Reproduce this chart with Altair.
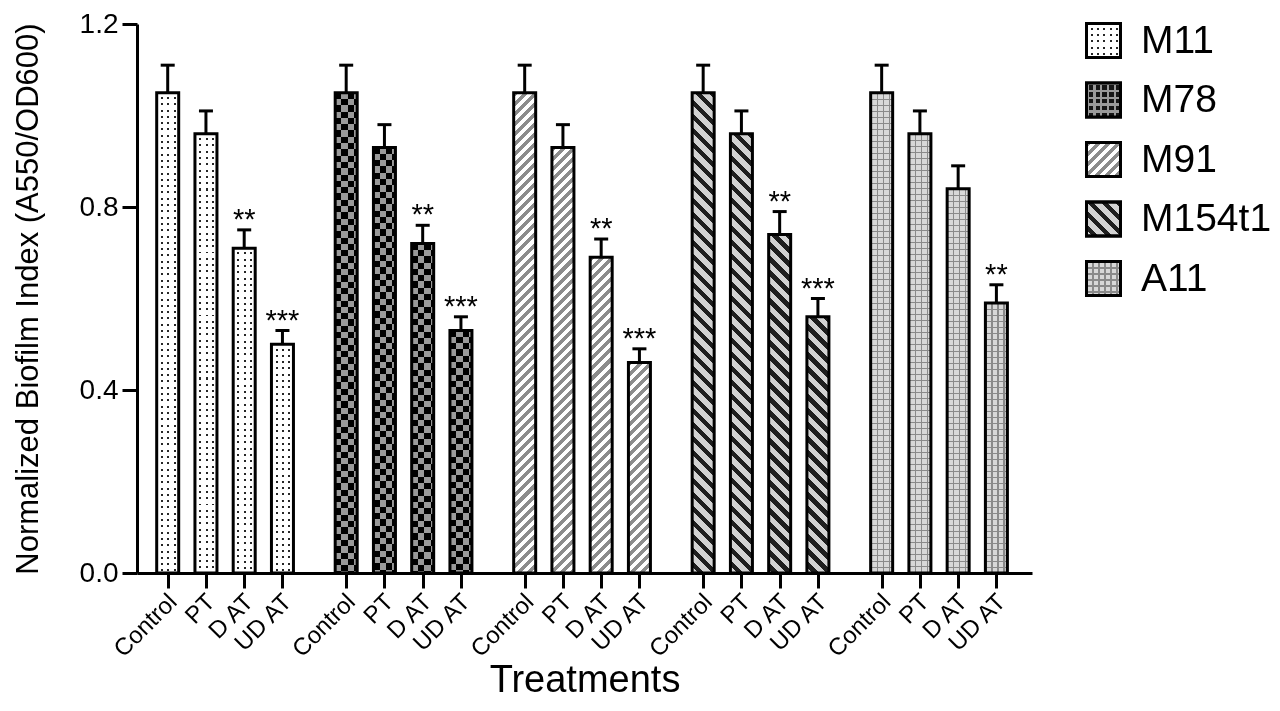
import math
import json
import altair as alt
import pandas as pd

# ---------------- data ----------------
strains = ["M11", "M78", "M91", "M154t1", "A11"]
treatments = ["Control", "PT", "D AT", "UD AT"]

mean_M11 = [1.05, 0.96, 0.71, 0.50]
mean_M78 = [1.05, 0.93, 0.72, 0.53]
mean_M91 = [1.05, 0.93, 0.69, 0.46]
mean_M154t1 = [1.05, 0.96, 0.74, 0.56]
mean_A11 = [1.05, 0.96, 0.84, 0.59]

err_M11 = [0.06, 0.05, 0.04, 0.03]
err_M78 = [0.06, 0.05, 0.04, 0.03]
err_M91 = [0.06, 0.05, 0.04, 0.03]
err_M154t1 = [0.06, 0.05, 0.05, 0.04]
err_A11 = [0.06, 0.05, 0.05, 0.04]

sig_M11 = ["", "", "**", "***"]
sig_M78 = ["", "", "**", "***"]
sig_M91 = ["", "", "**", "***"]
sig_M154t1 = ["", "", "**", "***"]
sig_A11 = ["", "", "", "**"]

means = [mean_M11, mean_M78, mean_M91, mean_M154t1, mean_A11]
errs = [err_M11, err_M78, err_M91, err_M154t1, err_A11]
sigs = [sig_M11, sig_M78, sig_M91, sig_M154t1, sig_A11]

# ---------------- layout ----------------
W, H = 895, 549
YMAX = 1.2
BAR_W = 22
GAP = 2.0 / 3.0                      # extra gap between strain groups (in bar slots)
STEP = len(treatments) + GAP
XMIN, XMAX = -0.672, (len(strains) - 1) * STEP + len(treatments) - 1 + 0.80
FONT = "Liberation Sans"

rows = []
for gi, s in enumerate(strains):
    for ti, t in enumerate(treatments):
        rows.append({
            "strain": s, "treatment": t, "key": s + "|" + t,
            "pos": gi * STEP + ti,
            "mean": means[gi][ti],
            "top": means[gi][ti] + errs[gi][ti],
            "sig": sigs[gi][ti],
        })
df = pd.DataFrame(rows)
positions = list(df["pos"])

# ---------------- pattern helpers (gradients used as hatch fills) ----------------
CLEAR = "rgba(0,0,0,0)"


def stripe_stops(span, period, duty, c1, c2):
    f = period / span
    stops = []
    o = 0.0
    while o < 1 - 1e-9:
        m = min(o + duty * f, 1.0)
        e = min(o + f, 1.0)
        stops.append({"offset": round(o, 5), "color": c1})
        stops.append({"offset": round(m, 5), "color": c1})
        if m < 1:
            stops.append({"offset": round(m, 5), "color": c2})
            stops.append({"offset": round(e, 5), "color": c2})
        o += f
    return stops


def horiz(h, period, duty, c1, c2):
    return {"gradient": "linear", "x1": 0, "y1": 0, "x2": 0, "y2": 1,
            "stops": stripe_stops(h, period, duty, c1, c2)}


def vert(w, period, duty, c1, c2):
    return {"gradient": "linear", "x1": 0, "y1": 0, "x2": 1, "y2": 0,
            "stops": stripe_stops(w, period, duty, c1, c2)}


def diag_up(w, h, period, duty, c1, c2):
    k = (w + h) / (w * w + h * h)
    return {"gradient": "linear", "x1": 0, "y1": 0, "x2": round(k * w, 5), "y2": round(k * h, 5),
            "stops": stripe_stops((w + h) / math.sqrt(2), period, duty, c1, c2)}


def diag_down(w, h, period, duty, c1, c2):
    k = (w + h) / (w * w + h * h)
    return {"gradient": "linear", "x1": 1, "y1": 0, "x2": round(1 - k * w, 5), "y2": round(k * h, 5),
            "stops": stripe_stops((w + h) / math.sqrt(2), period, duty, c1, c2)}


def base_fill(s, w, h):
    if s == "M11":
        return "#262626"
    if s == "M78":
        return horiz(h, 12.6, 0.5, "#9a9a9a", "#000000")
    if s == "M91":
        return diag_up(w, h, 7.1, 0.5, "#8c8c8c", "#ffffff")
    if s == "M154t1":
        return diag_down(w, h, 9.9, 0.45, "#1e1e1e", "#d2d2d2")
    return "#d8d8d8"


def h_overlay(s, h):
    if s == "M11":
        return horiz(h, 6.3, 4.3 / 6.3, "#ffffff", CLEAR)
    if s == "A11":
        return horiz(h, 6.0, 1.3 / 6.0, "#8a8a8a", CLEAR)
    return CLEAR


def v_overlay(s, w):
    if s == "M11":
        return vert(w, 6.3, 4.3 / 6.3, "#ffffff", CLEAR)
    if s == "A11":
        return vert(w, 6.0, 1.3 / 6.0, "#8a8a8a", CLEAR)
    return CLEAR


def chain(pairs, default):
    c = None
    for test, val in pairs:
        c = alt.when(test).then(alt.value(val)) if c is None else c.when(test).then(alt.value(val))
    return c.otherwise(alt.value(default))


bar_h = {r["key"]: r["mean"] / YMAX * H for r in rows}
base_pairs = [(alt.datum.key == r["key"], base_fill(r["strain"], BAR_W, bar_h[r["key"]])) for r in rows]
hov_pairs = [(alt.datum.key == r["key"], h_overlay(r["strain"], bar_h[r["key"]]))
             for r in rows if r["strain"] in ("M11", "A11")]
vov_pairs = [(alt.datum.strain == s, v_overlay(s, BAR_W)) for s in ("M11", "A11")]

# ---------------- encodings ----------------
label_expr = "{}[round(datum.value - floor((datum.value + 0.5) / {}) * {})]".format(
    str(treatments), repr(STEP), repr(STEP))

x_axis = alt.Axis(values=positions, labelExpr=label_expr, labelAngle=-45, labelAlign="right",
                  labelBaseline="middle", labelFontSize=24, labelPadding=10, labelOffset=5,
                  labelOverlap=False, labelFlush=False, labelColor="black", labelFont=FONT,
                  tickSize=15, tickWidth=3, tickColor="black", domainWidth=3, domainColor="black",
                  grid=False, title="Treatments", titleFontSize=38, titleFontWeight="normal",
                  titleColor="black", titleFont=FONT, titleBaseline="alphabetic", titleY=118)
y_axis = alt.Axis(values=[0, 0.4, 0.8, 1.2], format=".1f", tickSize=15, tickWidth=3, tickColor="black",
                  domainWidth=3, domainColor="black", labelFontSize=28, labelPadding=4,
                  labelColor="black", labelFont=FONT, grid=False,
                  title="Normalized Biofilm Index (A550/OD600)", titleFontSize=31,
                  titleFontWeight="normal", titleColor="black", titleFont=FONT,
                  titleX=-100, titleY=H / 2, titleBaseline="alphabetic", titleAngle=270)

xs = alt.Scale(domain=[XMIN, XMAX], nice=False, zero=False)
ys = alt.Scale(domain=[0, YMAX], nice=False, zero=True)
X = alt.X("pos:Q", scale=xs, axis=x_axis)


def Y(field):
    return alt.Y(field + ":Q", scale=ys, axis=y_axis, stack=None)


base = alt.Chart(df)

bars_base = base.mark_bar(width=BAR_W, orient="vertical").encode(
    x=X, y=Y("mean"), fill=chain(base_pairs, "white"))

bars_h = base.transform_filter(
    alt.FieldOneOfPredicate(field="strain", oneOf=["M11", "A11"])
).mark_bar(width=BAR_W, orient="vertical").encode(
    x=X, y=Y("mean"), fill=chain(hov_pairs, CLEAR))

bars_v = base.transform_filter(
    alt.FieldOneOfPredicate(field="strain", oneOf=["M11", "A11"])
).mark_bar(width=BAR_W, orient="vertical").encode(
    x=X, y=Y("mean"), fill=chain(vov_pairs, CLEAR))

bars_checker = base.transform_filter(alt.datum.strain == "M78").mark_bar(
    width=BAR_W, orient="vertical", blend="difference"
).encode(x=X, y=Y("mean"), fill=alt.value(vert(BAR_W, 12.6, 0.5, "#9a9a9a", "#000000")))

bars_outline = base.mark_bar(width=BAR_W, orient="vertical", fillOpacity=0,
                             stroke="black", strokeWidth=3).encode(x=X, y=Y("mean"))

err_line = base.mark_rule(strokeWidth=3, color="black").encode(x=X, y=Y("mean"), y2="top:Q")
err_cap = base.mark_tick(orient="horizontal", size=14, thickness=3, color="black", opacity=1).encode(
    x=X, y=Y("top"))
stars = base.mark_text(fontSize=29, font=FONT, color="black", baseline="alphabetic", dy=-1).encode(
    x=X, y=Y("top"), text="sig:N")

# ---------------- legend (three stacked legends: base + two hatch overlays) ----------------
SYM = 34
LX, LY = 947, -3


def gexpr(v):
    return alt.ExprRef(expr=json.dumps(v)) if isinstance(v, dict) else v


leg_base_range = ["#262626", "#151515",
                  diag_up(SYM, SYM, 7.1, 0.5, "#8c8c8c", "#ffffff"),
                  diag_down(SYM, SYM, 9.9, 0.45, "#1e1e1e", "#d2d2d2"),
                  "#d8d8d8"]
leg_h_range = [horiz(SYM, 6.3, 4.3 / 6.3, "#ffffff", CLEAR),
               horiz(SYM, 6.8, 0.35, "#9a9a9a", CLEAR),
               CLEAR, CLEAR,
               horiz(SYM, 6.0, 1.3 / 6.0, "#8a8a8a", CLEAR)]
leg_v_range = [vert(SYM, 6.3, 4.3 / 6.3, "#ffffff", CLEAR),
               vert(SYM, 6.8, 0.35, "#9a9a9a", CLEAR),
               CLEAR, CLEAR,
               vert(SYM, 6.0, 1.3 / 6.0, "#8a8a8a", CLEAR)]


def legend_layer(rng, show_labels, stroke_color):
    leg = alt.Legend(orient="none", legendX=LX, legendY=LY, title=None, symbolType="square",
                     symbolSize=SYM * SYM, symbolStrokeColor=stroke_color, symbolStrokeWidth=3,
                     symbolOpacity=1, labelFontSize=39, labelFont=FONT, labelColor="black",
                     labelOpacity=1 if show_labels else 0, labelOffset=18, rowPadding=12.5,
                     padding=0, labelLimit=400)
    return base.transform_filter("false").mark_square(
        size=SYM * SYM, opacity=1, filled=True, stroke=stroke_color, strokeWidth=3
    ).encode(fill=alt.Fill("strain:N",
                           scale=alt.Scale(domain=strains, range=[gexpr(v) for v in rng]),
                           legend=leg))


legA = legend_layer(leg_base_range, True, "black")
legB = legend_layer(leg_h_range, False, "transparent")
legC = legend_layer(leg_v_range, False, "black")

chart = alt.layer(
    bars_base, bars_h, bars_v, bars_checker, bars_outline,
    err_line, err_cap, stars, legA, legB, legC
).resolve_scale(fill="independent").properties(
    width=W, height=H,
    padding={"left": 129, "top": 16, "right": 240, "bottom": 126},
    autosize=alt.AutoSizeParams(type="none"),
    background="white",
).configure(font=FONT).configure_view(stroke="transparent", strokeWidth=0)

chart.save("out.html", embed_options={"renderer": "svg", "actions": False})
